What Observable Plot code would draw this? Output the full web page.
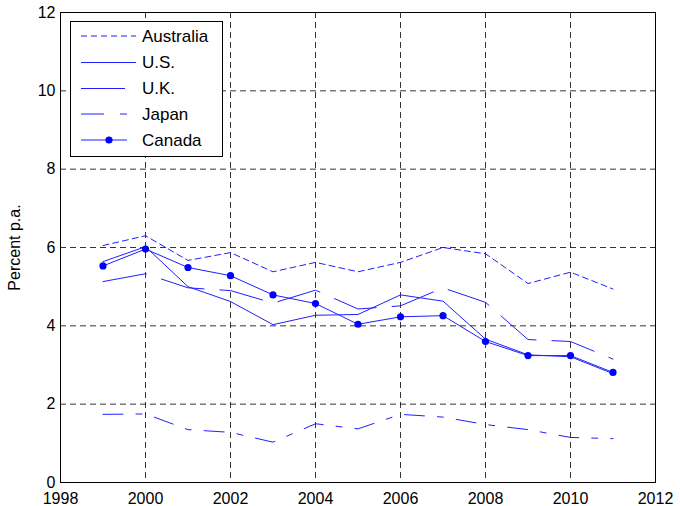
<!DOCTYPE html>
<html>
<head>
<meta charset="utf-8">
<script src="https://cdn.jsdelivr.net/npm/d3@7"></script>
<script src="https://cdn.jsdelivr.net/npm/@observablehq/plot@0.6"></script>
<style>
  html, body { margin: 0; padding: 0; background: #fff; }
  #chart svg { display: block; }
</style>
</head>
<body>
<div id="chart"></div>
<script>
const years = [1999, 2000, 2001, 2002, 2003, 2004, 2005, 2006, 2007, 2008, 2009, 2010, 2011];
const australia = [6.05, 6.30, 5.67, 5.87, 5.38, 5.62, 5.38, 5.62, 6.00, 5.84, 5.08, 5.37, 4.94];
const us        = [5.64, 6.02, 5.00, 4.62, 4.03, 4.27, 4.29, 4.79, 4.63, 3.66, 3.26, 3.21, 2.78];
const uk        = [5.13, 5.33, 4.97, 4.90, 4.58, 4.91, 4.43, 4.51, 4.97, 4.60, 3.65, 3.60, 3.15];
const japan     = [1.74, 1.75, 1.35, 1.28, 1.03, 1.50, 1.37, 1.74, 1.67, 1.48, 1.35, 1.15, 1.12];
const canada    = [5.53, 5.96, 5.49, 5.28, 4.79, 4.57, 4.04, 4.23, 4.26, 3.60, 3.24, 3.24, 2.81];
const seriesNames = ["Australia", "U.S.", "U.K.", "Japan", "Canada"];
const xTicks = [1998, 2000, 2002, 2004, 2006, 2008, 2010, 2012];
const yTicks = [0, 2, 4, 6, 8, 10, 12];

const blue = "#1f1fff";
const dashes = {"Australia": "6,4", "U.S.": null, "U.K.": "44,16", "Japan": "20,13,6,13", "Canada": null};
const seriesValues = [australia, us, uk, japan, canada];
const rows = (vals) => years.map((y, i) => ({year: y, value: vals[i]}));

const gridStyle = {stroke: "#111", strokeWidth: 1, strokeDasharray: "6,4", strokeOpacity: 0.85};

const marks = [
  Plot.ruleX(xTicks.slice(1, -1), {...gridStyle}),
  Plot.ruleY(yTicks.slice(1, -1), {...gridStyle}),
  Plot.axisX({ticks: xTicks, tickFormat: d => String(d), tickSize: 0, tickPadding: 10, label: null, fontSize: 16}),
  Plot.axisY({ticks: yTicks, tickSize: 0, tickPadding: 5, label: "Percent p.a.", labelAnchor: "center", labelArrow: "none", labelOffset: 52, fontSize: 16}),
];
seriesNames.forEach((name, i) => {
  const opts = {x: "year", y: "value", stroke: blue, strokeWidth: 1};
  if (dashes[name]) opts.strokeDasharray = dashes[name];
  marks.push(Plot.line(rows(seriesValues[i]), opts));
});
marks.push(Plot.dot(rows(canada), {x: "year", y: "value", r: 3.6, fill: "#0000ff", stroke: "none"}));
marks.push(Plot.frame({stroke: "#000", strokeWidth: 1}));

const chart = Plot.plot({
  width: 680,
  height: 506,
  marginLeft: 60,
  marginRight: 25,
  marginTop: 12,
  marginBottom: 24,
  style: {fontFamily: "Liberation Sans, Arial, sans-serif", fontSize: "16px", color: "#000", background: "#fff"},
  x: {domain: [1998, 2012]},
  y: {domain: [0, 12]},
  marks
});
document.getElementById("chart").appendChild(chart);

// legend
const svg = d3.select(chart);
const lg = svg.append("g").attr("font-family", "Liberation Sans, Arial, sans-serif").attr("font-size", 17).attr("text-anchor", "start");
lg.append("rect").attr("x", 70.5).attr("y", 21.5).attr("width", 152).attr("height", 135)
  .attr("fill", "#fff").attr("stroke", "#000").attr("stroke-width", 1);
const rowY = [36, 62.5, 88.5, 114, 140];
const lineEnd = {"Australia": 136, "U.S.": 136, "U.K.": 127, "Japan": 127, "Canada": 127};
seriesNames.forEach((name, i) => {
  const l = lg.append("line").attr("x1", 81).attr("x2", lineEnd[name]).attr("y1", rowY[i]).attr("y2", rowY[i])
    .attr("stroke", blue).attr("stroke-width", 1);
  if (dashes[name]) l.attr("stroke-dasharray", name === "Japan" ? "23,16,7,16" : dashes[name]);
  if (name === "Canada") lg.append("circle").attr("cx", 109).attr("cy", rowY[i]).attr("r", 3.6).attr("fill", "#0000ff");
  lg.append("text").attr("x", 142).attr("y", rowY[i]).attr("dy", "0.35em").attr("fill", "#000").attr("text-anchor", "start").text(name);
});
</script>
</body>
</html>
